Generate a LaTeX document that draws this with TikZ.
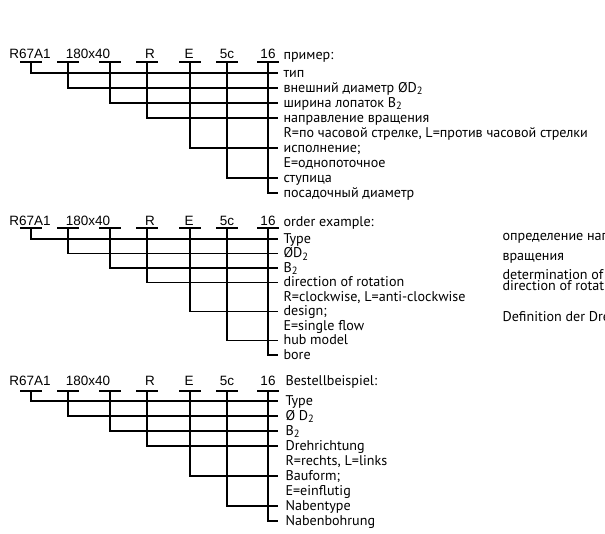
\documentclass[tikz,border=0pt]{standalone}
\usepackage{fontspec}
\setmainfont{PT Sans}
\newfontfamily\hdrfont{Liberation Sans}
\newcommand\lowtwo{\raisebox{-0.35ex}{\fontsize{10.5}{10.5}\selectfont 2}}
\begin{document}
\begin{tikzpicture}[x=1pt,y=-1pt,line width=1.1pt,
  lbl/.style={anchor=base west,inner sep=0pt,font=\fontsize{14.1}{15}\selectfont},
  hd/.style={anchor=base,inner sep=0pt,font=\hdrfont\fontsize{13.5}{15}\selectfont},
  seg/.style={line width=1.1pt},
  conn/.style={line width=1.1pt}]
\useasboundingbox (0,0) rectangle (605,534);
\clip (0,0) rectangle (605,534);

% ---------- three blocks: name, underline y, first row y, row step, header baseline
\foreach \b/\uy/\ry/\rd/\hb in {a/62/73/15/59, b/228/239/14.5/226, c/391/401/15/385}{
  \node[hd] (\b h1) at (30,\hb) {R67A1};
  \node[hd] (\b h2) at (88,\hb) {180x40};
  \node[hd] (\b h3) at (150,\hb) {R};
  \node[hd] (\b h4) at (189,\hb) {E};
  \node[hd] (\b h5) at (227,\hb) {5c};
  \node[hd] (\b h6) at (268,\hb) {16};
  \foreach \k in {1,...,9}{
    \coordinate (\b r\k) at (278,{\ry+(\k-1)*\rd});
  }
  \foreach \cx/\r [count=\i] in {31/1,68/2,110/3,147/4,190/6,227/8,268/9}{
    \coordinate (\b t\i) at (\cx,\uy);
    \draw[seg] ([xshift=-11pt]\b t\i) -- ([xshift=11pt]\b t\i);
    \draw[conn] (\b t\i) |- (\b r\r);
  }
}

% ---------- labels block 1
\node[lbl] (a0) at (283,60) {пример:};
\node[lbl] (a1) at (283,77.5) {тип};
\node[lbl] (a2) at (283,92.5) {внешний диаметр ØD\lowtwo};
\node[lbl] (a3) at (283,107.5) {ширина лопаток B\lowtwo};
\node[lbl] (a4) at (283,122.5) {направление вращения};
\node[lbl] (a5) at (283,137.5) {R=по часовой стрелке, L=против часовой стрелки};
\node[lbl] (a6) at (283,152.5) {исполнение;};
\node[lbl] (a7) at (283,167.5) {E=однопоточное};
\node[lbl] (a8) at (283,182.5) {ступица};
\node[lbl] (a9) at (283,197.5) {посадочный диаметр};

% ---------- labels block 2
\node[lbl] (b0) at (283,227) {order example:};
\foreach \t [count=\k] in {Type,ØD\lowtwo,B\lowtwo,direction of rotation,{R=clockwise, L=anti-clockwise},design;,E=single flow,hub model,bore}{
  \node[lbl] (bl\k) at (283,{239+(\k-1)*14.5+4.5}) {\t};
}

% ---------- labels block 3
\node[lbl] (c0) at (285,385) {Bestellbeispiel:};
\foreach \t [count=\k] in {Type,Ø D\lowtwo,B\lowtwo,Drehrichtung,{R=rechts, L=links},Bauform;,E=einflutig,Nabentype,Nabenbohrung}{
  \node[lbl] (cl\k) at (285,{401+(\k-1)*15+4.5}) {\t};
}

% ---------- right column (cut by the picture's right edge, as in the reference)
\node[lbl] (n1) at (502,241) {определение направления};
\node[lbl] (n2) at (502,261) {вращения};
\node[lbl,align=left,anchor=north west,font=\fontsize{14.1}{11}\selectfont] (n3) at (502,268.5) {determination of\\direction of rotation};
\node[lbl] (n5) at (502,322) {Definition der Drehrichtung};
\end{tikzpicture}
\end{document}
